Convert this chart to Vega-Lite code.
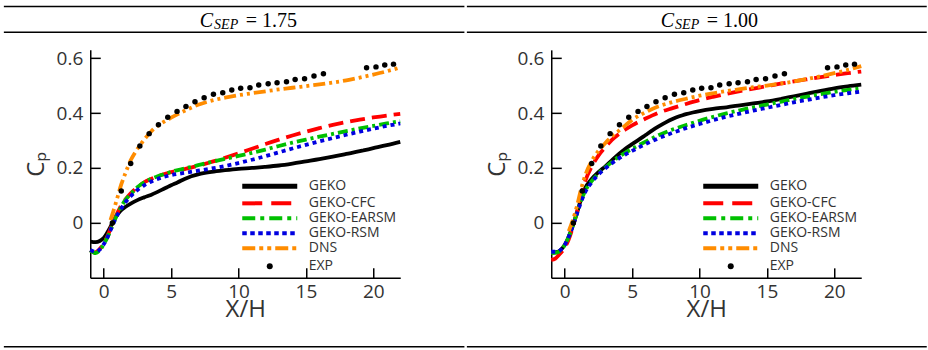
{
  "$schema": "https://vega.github.io/schema/vega-lite/v6.json",
  "padding": {"left": 2.25, "top": 4.85, "right": 0, "bottom": 0},
  "spacing": 0,
  "config": {
    "view": {"stroke": null},
    "axis": {"grid": false, "domainColor": "#000", "domainWidth": 1.5, "tickColor": "#000", "labelFont": "Open Sans", "labelColor": "#333", "titleFont": "Open Sans", "titleColor": "#333", "titleFontWeight": "normal"}
  },
  "datasets": {
    "L": [
      {"s":"GEKO","x":-1,"y":-0.068},{"s":"GEKO","x":-0.6,"y":-0.07},{"s":"GEKO","x":-0.3,"y":-0.066},{"s":"GEKO","x":0,"y":-0.055},{"s":"GEKO","x":0.3,"y":-0.032},{"s":"GEKO","x":0.6,"y":-0.005},{"s":"GEKO","x":0.9,"y":0.022},{"s":"GEKO","x":1.2,"y":0.042},{"s":"GEKO","x":1.6,"y":0.058},{"s":"GEKO","x":2,"y":0.07},{"s":"GEKO","x":2.5,"y":0.083},{"s":"GEKO","x":3,"y":0.093},{"s":"GEKO","x":3.5,"y":0.102},{"s":"GEKO","x":4,"y":0.113},{"s":"GEKO","x":4.5,"y":0.125},{"s":"GEKO","x":5,"y":0.137},{"s":"GEKO","x":5.5,"y":0.148},{"s":"GEKO","x":6,"y":0.16},{"s":"GEKO","x":6.5,"y":0.17},{"s":"GEKO","x":7,"y":0.177},{"s":"GEKO","x":7.5,"y":0.182},{"s":"GEKO","x":8,"y":0.186},{"s":"GEKO","x":9,"y":0.192},{"s":"GEKO","x":10,"y":0.197},{"s":"GEKO","x":11,"y":0.2},{"s":"GEKO","x":12,"y":0.204},{"s":"GEKO","x":13,"y":0.209},{"s":"GEKO","x":14,"y":0.216},{"s":"GEKO","x":15,"y":0.224},{"s":"GEKO","x":16,"y":0.232},{"s":"GEKO","x":17,"y":0.241},{"s":"GEKO","x":18,"y":0.251},{"s":"GEKO","x":19,"y":0.261},{"s":"GEKO","x":20,"y":0.272},{"s":"GEKO","x":21,"y":0.283},{"s":"GEKO","x":22,"y":0.295},
      {"s":"GEKO-CFC","x":-1,"y":-0.1},{"s":"GEKO-CFC","x":-0.7,"y":-0.108},{"s":"GEKO-CFC","x":-0.4,"y":-0.1},{"s":"GEKO-CFC","x":0,"y":-0.075},{"s":"GEKO-CFC","x":0.3,"y":-0.045},{"s":"GEKO-CFC","x":0.6,"y":-0.01},{"s":"GEKO-CFC","x":0.9,"y":0.025},{"s":"GEKO-CFC","x":1.2,"y":0.055},{"s":"GEKO-CFC","x":1.6,"y":0.085},{"s":"GEKO-CFC","x":2,"y":0.108},{"s":"GEKO-CFC","x":2.5,"y":0.13},{"s":"GEKO-CFC","x":3,"y":0.148},{"s":"GEKO-CFC","x":3.5,"y":0.16},{"s":"GEKO-CFC","x":4,"y":0.17},{"s":"GEKO-CFC","x":4.5,"y":0.178},{"s":"GEKO-CFC","x":5,"y":0.185},{"s":"GEKO-CFC","x":6,"y":0.196},{"s":"GEKO-CFC","x":7,"y":0.208},{"s":"GEKO-CFC","x":8,"y":0.222},{"s":"GEKO-CFC","x":9,"y":0.237},{"s":"GEKO-CFC","x":10,"y":0.253},{"s":"GEKO-CFC","x":11,"y":0.27},{"s":"GEKO-CFC","x":12,"y":0.287},{"s":"GEKO-CFC","x":13,"y":0.303},{"s":"GEKO-CFC","x":14,"y":0.318},{"s":"GEKO-CFC","x":15,"y":0.332},{"s":"GEKO-CFC","x":16,"y":0.345},{"s":"GEKO-CFC","x":17,"y":0.357},{"s":"GEKO-CFC","x":18,"y":0.367},{"s":"GEKO-CFC","x":19,"y":0.376},{"s":"GEKO-CFC","x":20,"y":0.384},{"s":"GEKO-CFC","x":21,"y":0.391},{"s":"GEKO-CFC","x":22,"y":0.397},
      {"s":"GEKO-EARSM","x":-1,"y":-0.1},{"s":"GEKO-EARSM","x":-0.6,"y":-0.11},{"s":"GEKO-EARSM","x":-0.3,"y":-0.1},{"s":"GEKO-EARSM","x":0,"y":-0.078},{"s":"GEKO-EARSM","x":0.3,"y":-0.05},{"s":"GEKO-EARSM","x":0.6,"y":-0.015},{"s":"GEKO-EARSM","x":0.9,"y":0.02},{"s":"GEKO-EARSM","x":1.2,"y":0.05},{"s":"GEKO-EARSM","x":1.6,"y":0.083},{"s":"GEKO-EARSM","x":2,"y":0.105},{"s":"GEKO-EARSM","x":2.5,"y":0.13},{"s":"GEKO-EARSM","x":3,"y":0.148},{"s":"GEKO-EARSM","x":3.5,"y":0.16},{"s":"GEKO-EARSM","x":4,"y":0.17},{"s":"GEKO-EARSM","x":4.5,"y":0.178},{"s":"GEKO-EARSM","x":5,"y":0.186},{"s":"GEKO-EARSM","x":6,"y":0.198},{"s":"GEKO-EARSM","x":7,"y":0.21},{"s":"GEKO-EARSM","x":8,"y":0.222},{"s":"GEKO-EARSM","x":9,"y":0.233},{"s":"GEKO-EARSM","x":10,"y":0.244},{"s":"GEKO-EARSM","x":11,"y":0.255},{"s":"GEKO-EARSM","x":12,"y":0.267},{"s":"GEKO-EARSM","x":13,"y":0.28},{"s":"GEKO-EARSM","x":14,"y":0.292},{"s":"GEKO-EARSM","x":15,"y":0.303},{"s":"GEKO-EARSM","x":16,"y":0.314},{"s":"GEKO-EARSM","x":17,"y":0.324},{"s":"GEKO-EARSM","x":18,"y":0.334},{"s":"GEKO-EARSM","x":19,"y":0.344},{"s":"GEKO-EARSM","x":20,"y":0.353},{"s":"GEKO-EARSM","x":21,"y":0.362},{"s":"GEKO-EARSM","x":22,"y":0.37},
      {"s":"GEKO-RSM","x":-1,"y":-0.098},{"s":"GEKO-RSM","x":-0.6,"y":-0.105},{"s":"GEKO-RSM","x":-0.3,"y":-0.097},{"s":"GEKO-RSM","x":0,"y":-0.078},{"s":"GEKO-RSM","x":0.3,"y":-0.05},{"s":"GEKO-RSM","x":0.6,"y":-0.015},{"s":"GEKO-RSM","x":0.9,"y":0.018},{"s":"GEKO-RSM","x":1.2,"y":0.045},{"s":"GEKO-RSM","x":1.6,"y":0.075},{"s":"GEKO-RSM","x":2,"y":0.097},{"s":"GEKO-RSM","x":2.5,"y":0.12},{"s":"GEKO-RSM","x":3,"y":0.137},{"s":"GEKO-RSM","x":3.5,"y":0.15},{"s":"GEKO-RSM","x":4,"y":0.16},{"s":"GEKO-RSM","x":4.5,"y":0.168},{"s":"GEKO-RSM","x":5,"y":0.174},{"s":"GEKO-RSM","x":6,"y":0.182},{"s":"GEKO-RSM","x":7,"y":0.19},{"s":"GEKO-RSM","x":8,"y":0.198},{"s":"GEKO-RSM","x":9,"y":0.207},{"s":"GEKO-RSM","x":10,"y":0.218},{"s":"GEKO-RSM","x":11,"y":0.23},{"s":"GEKO-RSM","x":12,"y":0.243},{"s":"GEKO-RSM","x":13,"y":0.257},{"s":"GEKO-RSM","x":14,"y":0.271},{"s":"GEKO-RSM","x":15,"y":0.284},{"s":"GEKO-RSM","x":16,"y":0.297},{"s":"GEKO-RSM","x":17,"y":0.309},{"s":"GEKO-RSM","x":18,"y":0.321},{"s":"GEKO-RSM","x":19,"y":0.332},{"s":"GEKO-RSM","x":20,"y":0.343},{"s":"GEKO-RSM","x":21,"y":0.353},{"s":"GEKO-RSM","x":22,"y":0.362},
      {"s":"DNS","x":0.5,"y":0.01},{"s":"DNS","x":0.7,"y":0.04},{"s":"DNS","x":1.0,"y":0.09},{"s":"DNS","x":1.3,"y":0.14},{"s":"DNS","x":1.6,"y":0.18},{"s":"DNS","x":2,"y":0.228},{"s":"DNS","x":2.4,"y":0.262},{"s":"DNS","x":2.8,"y":0.29},{"s":"DNS","x":3.2,"y":0.315},{"s":"DNS","x":3.7,"y":0.342},{"s":"DNS","x":4.2,"y":0.36},{"s":"DNS","x":5,"y":0.383},{"s":"DNS","x":5.5,"y":0.396},{"s":"DNS","x":6,"y":0.408},{"s":"DNS","x":7,"y":0.43},{"s":"DNS","x":8,"y":0.445},{"s":"DNS","x":9,"y":0.456},{"s":"DNS","x":10,"y":0.465},{"s":"DNS","x":11,"y":0.472},{"s":"DNS","x":12,"y":0.479},{"s":"DNS","x":13,"y":0.486},{"s":"DNS","x":14,"y":0.492},{"s":"DNS","x":15,"y":0.498},{"s":"DNS","x":16,"y":0.504},{"s":"DNS","x":17,"y":0.511},{"s":"DNS","x":18,"y":0.519},{"s":"DNS","x":19,"y":0.529},{"s":"DNS","x":20,"y":0.54},{"s":"DNS","x":21,"y":0.552},{"s":"DNS","x":22,"y":0.566}
    ],
    "R": [
      {"s":"GEKO","x":-1,"y":-0.108},{"s":"GEKO","x":-0.6,"y":-0.106},{"s":"GEKO","x":-0.3,"y":-0.098},{"s":"GEKO","x":0,"y":-0.08},{"s":"GEKO","x":0.3,"y":-0.05},{"s":"GEKO","x":0.6,"y":-0.01},{"s":"GEKO","x":0.9,"y":0.035},{"s":"GEKO","x":1.2,"y":0.085},{"s":"GEKO","x":1.5,"y":0.125},{"s":"GEKO","x":2,"y":0.16},{"s":"GEKO","x":2.5,"y":0.185},{"s":"GEKO","x":3,"y":0.205},{"s":"GEKO","x":3.5,"y":0.228},{"s":"GEKO","x":4,"y":0.25},{"s":"GEKO","x":4.5,"y":0.27},{"s":"GEKO","x":5,"y":0.287},{"s":"GEKO","x":5.5,"y":0.303},{"s":"GEKO","x":6,"y":0.32},{"s":"GEKO","x":6.5,"y":0.337},{"s":"GEKO","x":7,"y":0.352},{"s":"GEKO","x":7.5,"y":0.366},{"s":"GEKO","x":8,"y":0.378},{"s":"GEKO","x":8.5,"y":0.388},{"s":"GEKO","x":9,"y":0.396},{"s":"GEKO","x":9.5,"y":0.402},{"s":"GEKO","x":10,"y":0.407},{"s":"GEKO","x":11,"y":0.415},{"s":"GEKO","x":12,"y":0.421},{"s":"GEKO","x":13,"y":0.428},{"s":"GEKO","x":14,"y":0.435},{"s":"GEKO","x":15,"y":0.442},{"s":"GEKO","x":16,"y":0.451},{"s":"GEKO","x":17,"y":0.461},{"s":"GEKO","x":18,"y":0.471},{"s":"GEKO","x":19,"y":0.481},{"s":"GEKO","x":20,"y":0.49},{"s":"GEKO","x":21,"y":0.497},{"s":"GEKO","x":22,"y":0.503},
      {"s":"GEKO-CFC","x":-1,"y":-0.135},{"s":"GEKO-CFC","x":-0.7,"y":-0.13},{"s":"GEKO-CFC","x":-0.4,"y":-0.115},{"s":"GEKO-CFC","x":0,"y":-0.09},{"s":"GEKO-CFC","x":0.3,"y":-0.06},{"s":"GEKO-CFC","x":0.6,"y":-0.015},{"s":"GEKO-CFC","x":0.9,"y":0.04},{"s":"GEKO-CFC","x":1.2,"y":0.1},{"s":"GEKO-CFC","x":1.5,"y":0.15},{"s":"GEKO-CFC","x":2,"y":0.205},{"s":"GEKO-CFC","x":2.5,"y":0.245},{"s":"GEKO-CFC","x":3,"y":0.275},{"s":"GEKO-CFC","x":3.5,"y":0.302},{"s":"GEKO-CFC","x":4,"y":0.323},{"s":"GEKO-CFC","x":4.5,"y":0.34},{"s":"GEKO-CFC","x":5,"y":0.355},{"s":"GEKO-CFC","x":6,"y":0.38},{"s":"GEKO-CFC","x":7,"y":0.402},{"s":"GEKO-CFC","x":8,"y":0.418},{"s":"GEKO-CFC","x":9,"y":0.433},{"s":"GEKO-CFC","x":10,"y":0.447},{"s":"GEKO-CFC","x":11,"y":0.459},{"s":"GEKO-CFC","x":12,"y":0.47},{"s":"GEKO-CFC","x":13,"y":0.48},{"s":"GEKO-CFC","x":14,"y":0.489},{"s":"GEKO-CFC","x":15,"y":0.498},{"s":"GEKO-CFC","x":16,"y":0.507},{"s":"GEKO-CFC","x":17,"y":0.515},{"s":"GEKO-CFC","x":18,"y":0.523},{"s":"GEKO-CFC","x":19,"y":0.531},{"s":"GEKO-CFC","x":20,"y":0.538},{"s":"GEKO-CFC","x":21,"y":0.545},{"s":"GEKO-CFC","x":22,"y":0.551},
      {"s":"GEKO-EARSM","x":-1,"y":-0.11},{"s":"GEKO-EARSM","x":-0.6,"y":-0.108},{"s":"GEKO-EARSM","x":-0.3,"y":-0.1},{"s":"GEKO-EARSM","x":0,"y":-0.08},{"s":"GEKO-EARSM","x":0.3,"y":-0.05},{"s":"GEKO-EARSM","x":0.6,"y":-0.01},{"s":"GEKO-EARSM","x":0.9,"y":0.035},{"s":"GEKO-EARSM","x":1.2,"y":0.08},{"s":"GEKO-EARSM","x":1.5,"y":0.115},{"s":"GEKO-EARSM","x":2,"y":0.152},{"s":"GEKO-EARSM","x":2.5,"y":0.18},{"s":"GEKO-EARSM","x":3,"y":0.202},{"s":"GEKO-EARSM","x":3.5,"y":0.222},{"s":"GEKO-EARSM","x":4,"y":0.24},{"s":"GEKO-EARSM","x":4.5,"y":0.256},{"s":"GEKO-EARSM","x":5,"y":0.27},{"s":"GEKO-EARSM","x":6,"y":0.296},{"s":"GEKO-EARSM","x":7,"y":0.32},{"s":"GEKO-EARSM","x":8,"y":0.34},{"s":"GEKO-EARSM","x":9,"y":0.356},{"s":"GEKO-EARSM","x":10,"y":0.372},{"s":"GEKO-EARSM","x":11,"y":0.386},{"s":"GEKO-EARSM","x":12,"y":0.399},{"s":"GEKO-EARSM","x":13,"y":0.41},{"s":"GEKO-EARSM","x":14,"y":0.421},{"s":"GEKO-EARSM","x":15,"y":0.431},{"s":"GEKO-EARSM","x":16,"y":0.441},{"s":"GEKO-EARSM","x":17,"y":0.451},{"s":"GEKO-EARSM","x":18,"y":0.46},{"s":"GEKO-EARSM","x":19,"y":0.469},{"s":"GEKO-EARSM","x":20,"y":0.477},{"s":"GEKO-EARSM","x":21,"y":0.484},{"s":"GEKO-EARSM","x":22,"y":0.49},
      {"s":"GEKO-RSM","x":-1,"y":-0.105},{"s":"GEKO-RSM","x":-0.6,"y":-0.105},{"s":"GEKO-RSM","x":-0.3,"y":-0.098},{"s":"GEKO-RSM","x":0,"y":-0.08},{"s":"GEKO-RSM","x":0.3,"y":-0.05},{"s":"GEKO-RSM","x":0.6,"y":-0.012},{"s":"GEKO-RSM","x":0.9,"y":0.032},{"s":"GEKO-RSM","x":1.2,"y":0.075},{"s":"GEKO-RSM","x":1.5,"y":0.11},{"s":"GEKO-RSM","x":2,"y":0.148},{"s":"GEKO-RSM","x":2.5,"y":0.176},{"s":"GEKO-RSM","x":3,"y":0.198},{"s":"GEKO-RSM","x":3.5,"y":0.217},{"s":"GEKO-RSM","x":4,"y":0.234},{"s":"GEKO-RSM","x":4.5,"y":0.249},{"s":"GEKO-RSM","x":5,"y":0.262},{"s":"GEKO-RSM","x":6,"y":0.287},{"s":"GEKO-RSM","x":7,"y":0.309},{"s":"GEKO-RSM","x":8,"y":0.328},{"s":"GEKO-RSM","x":9,"y":0.345},{"s":"GEKO-RSM","x":10,"y":0.36},{"s":"GEKO-RSM","x":11,"y":0.374},{"s":"GEKO-RSM","x":12,"y":0.387},{"s":"GEKO-RSM","x":13,"y":0.398},{"s":"GEKO-RSM","x":14,"y":0.409},{"s":"GEKO-RSM","x":15,"y":0.419},{"s":"GEKO-RSM","x":16,"y":0.429},{"s":"GEKO-RSM","x":17,"y":0.439},{"s":"GEKO-RSM","x":18,"y":0.448},{"s":"GEKO-RSM","x":19,"y":0.457},{"s":"GEKO-RSM","x":20,"y":0.465},{"s":"GEKO-RSM","x":21,"y":0.472},{"s":"GEKO-RSM","x":22,"y":0.478},
      {"s":"DNS","x":0.3,"y":-0.03},{"s":"DNS","x":0.6,"y":0.01},{"s":"DNS","x":0.9,"y":0.06},{"s":"DNS","x":1.2,"y":0.12},{"s":"DNS","x":1.5,"y":0.17},{"s":"DNS","x":2,"y":0.225},{"s":"DNS","x":2.5,"y":0.262},{"s":"DNS","x":3,"y":0.29},{"s":"DNS","x":3.5,"y":0.315},{"s":"DNS","x":4,"y":0.335},{"s":"DNS","x":4.5,"y":0.355},{"s":"DNS","x":5,"y":0.375},{"s":"DNS","x":5.5,"y":0.39},{"s":"DNS","x":6,"y":0.403},{"s":"DNS","x":7,"y":0.425},{"s":"DNS","x":8,"y":0.44},{"s":"DNS","x":9,"y":0.452},{"s":"DNS","x":10,"y":0.463},{"s":"DNS","x":11,"y":0.472},{"s":"DNS","x":12,"y":0.48},{"s":"DNS","x":13,"y":0.487},{"s":"DNS","x":14,"y":0.494},{"s":"DNS","x":15,"y":0.5},{"s":"DNS","x":16,"y":0.507},{"s":"DNS","x":17,"y":0.515},{"s":"DNS","x":18,"y":0.524},{"s":"DNS","x":19,"y":0.534},{"s":"DNS","x":20,"y":0.545},{"s":"DNS","x":21,"y":0.557},{"s":"DNS","x":22,"y":0.571}
    ],
    "E": [
      {"s":"EXP","x":0.64,"y":0.0},{"s":"EXP","x":1.3,"y":0.116},{"s":"EXP","x":2.0,"y":0.216},{"s":"EXP","x":2.68,"y":0.28},{"s":"EXP","x":3.37,"y":0.325},{"s":"EXP","x":4.06,"y":0.357},{"s":"EXP","x":4.75,"y":0.385},{"s":"EXP","x":5.44,"y":0.406},{"s":"EXP","x":6.1,"y":0.424},{"s":"EXP","x":6.77,"y":0.441},{"s":"EXP","x":7.45,"y":0.456},{"s":"EXP","x":8.14,"y":0.468},{"s":"EXP","x":8.83,"y":0.474},{"s":"EXP","x":9.5,"y":0.484},{"s":"EXP","x":10.16,"y":0.49},{"s":"EXP","x":10.85,"y":0.492},{"s":"EXP","x":11.5,"y":0.502},{"s":"EXP","x":12.2,"y":0.507},{"s":"EXP","x":12.86,"y":0.51},{"s":"EXP","x":13.56,"y":0.514},{"s":"EXP","x":14.2,"y":0.522},{"s":"EXP","x":14.9,"y":0.525},{"s":"EXP","x":15.6,"y":0.535},{"s":"EXP","x":16.3,"y":0.543},{"s":"EXP","x":19.5,"y":0.565},{"s":"EXP","x":20.2,"y":0.568},{"s":"EXP","x":20.85,"y":0.575},{"s":"EXP","x":21.5,"y":0.578}
    ]
  },
  "resolve": {"scale": {"color": "independent", "strokeDash": "independent"}, "legend": {"color": "independent"}},
  "hconcat": [
    {
      "width": 310, "height": 228,
      "resolve": {"scale": {"x": "independent", "y": "independent"}, "axis": {"x": "independent", "y": "independent"}},
      "layer": [
        {"layer": [
          {"data": {"name": "L"},
           "mark": {"type": "line", "strokeWidth": 3.8, "strokeCap": "butt", "interpolate": "monotone"},
           "encoding": {
             "x": {"field": "x", "type": "quantitative", "scale": {"domain": [-1, 22], "nice": false, "zero": false},
                   "axis": {"orient": "bottom", "values": [0, 5, 10, 15, 20], "tickSize": -10, "tickWidth": 1.5, "labelFontSize": 19, "labelPadding": 14.5, "labelFlush": false, "title": "X/H", "titleFontSize": 24, "titlePadding": -4}},
             "y": {"field": "y", "type": "quantitative", "scale": {"domain": [-0.2, 0.63], "nice": false, "zero": false},
                   "axis": {"orient": "left", "values": [0, 0.2, 0.4, 0.6], "format": "~g", "tickSize": -10, "tickWidth": 1.5, "labelFontSize": 19, "labelPadding": 17.5, "title": "Cₚ", "titleFontSize": 24, "titlePadding": 8}},
             "color": {"field": "s", "type": "nominal",
                       "scale": {"domain": ["GEKO", "GEKO-CFC", "GEKO-EARSM", "GEKO-RSM", "DNS", "EXP"], "range": ["#000000", "#ff0000", "#00c000", "#0000e0", "#ff8c00", "#000000"]},
                       "legend": {"title": null, "orient": "none", "legendX": 172.5, "legendY": 129.5, "padding": 0, "rowPadding": -2,
                                  "symbolType": "M-5,0H5", "symbolSize": 121, "symbolStrokeWidth": 4, "labelOffset": 32,
                                  "labelFont": "Open Sans", "labelFontSize": 14, "labelColor": "#333",
                                  "encode": {"symbols": {"update": {
                                    "strokeDash": {"signal": "datum.value==='GEKO-CFC'?[20,9]:datum.value==='GEKO-EARSM'?[13,5,4,5]:datum.value==='GEKO-RSM'?[4.5,3.5]:datum.value==='DNS'?[13,4,4,4,4,4]:datum.value==='EXP'?[0,1000]:[100,0]"},
                                    "strokeDashOffset": {"signal": "datum.value==='EXP'?-27.5:0"},
                                    "strokeCap": {"signal": "datum.value==='EXP'?'round':'butt'"},
                                    "strokeWidth": {"signal": "datum.value==='EXP'?6:datum.value==='GEKO'?5:4"}
                                  }}}}},
             "strokeDash": {"field": "s", "type": "nominal", "legend": null,
                            "scale": {"domain": ["GEKO", "GEKO-CFC", "GEKO-EARSM", "GEKO-RSM", "DNS"], "range": [[100, 0], [15, 7], [10, 4, 3, 4], [4, 4], [12, 4, 3, 4, 3, 4]]}}
           }},
          {"data": {"name": "E"},
           "mark": {"type": "point", "filled": true, "size": 30, "opacity": 1},
           "encoding": {
             "x": {"field": "x", "type": "quantitative"},
             "y": {"field": "y", "type": "quantitative"},
             "color": {"field": "s", "type": "nominal"}
           }}
        ]},
        {"data": {"values": [{}]},
         "layer": [
          {"mark": {"type": "rule", "color": "#000", "strokeWidth": 1.5},
           "encoding": {
             "x": {"datum": -7.41, "type": "quantitative", "scale": {"domain": [-1, 22], "nice": false, "zero": false},
                   "axis": {"orient": "bottom", "values": [-1, 1, 2, 3, 4, 6, 7, 8, 9, 11, 12, 13, 14, 16, 17, 18, 19, 21, 22], "tickSize": 4, "tickWidth": 1, "labels": false, "domain": false, "title": null}},
             "x2": {"datum": 26.76},
             "y": {"datum": 0.788, "type": "quantitative", "scale": {"domain": [-0.2, 0.63], "nice": false, "zero": false},
                   "axis": {"orient": "left", "values": [-0.15, -0.1, -0.05, 0.05, 0.1, 0.15, 0.25, 0.3, 0.35, 0.45, 0.5, 0.55], "tickSize": 4, "tickWidth": 1, "labels": false, "domain": false, "title": null}}
           }},
          {"mark": {"type": "rule", "color": "#000", "strokeWidth": 1.5},
           "encoding": {
             "x": {"datum": -7.41, "type": "quantitative", "axis": null},
             "x2": {"datum": 26.76},
             "y": {"datum": 0.6937, "type": "quantitative", "axis": null}
           }},
          {"mark": {"type": "rule", "color": "#000", "strokeWidth": 1.5},
           "encoding": {
             "x": {"datum": -7.41, "type": "quantitative", "axis": null},
             "x2": {"datum": 26.76},
             "y": {"datum": -0.451, "type": "quantitative", "axis": null}
           }},
          {"mark": {"type": "text", "text": "C", "font": "Liberation Serif", "fontStyle": "italic", "fontSize": 20, "align": "left", "baseline": "alphabetic", "color": "#000"},
           "encoding": {"x": {"datum": 7.12, "type": "quantitative", "axis": null}, "y": {"datum": 0.7137, "type": "quantitative", "axis": null}}},
          {"mark": {"type": "text", "text": "SEP", "font": "Liberation Serif", "fontStyle": "italic", "fontSize": 14, "align": "left", "baseline": "alphabetic", "color": "#000"},
           "encoding": {"x": {"datum": 8.19, "type": "quantitative", "axis": null}, "y": {"datum": 0.7046, "type": "quantitative", "axis": null}}},
          {"mark": {"type": "text", "text": "= 1.75", "font": "Liberation Serif", "fontSize": 20, "align": "left", "baseline": "alphabetic", "color": "#000"},
           "encoding": {"x": {"datum": 10.53, "type": "quantitative", "axis": null}, "y": {"datum": 0.7137, "type": "quantitative", "axis": null}}}
         ]}
      ]
    },
    {
      "width": 310, "height": 228,
      "resolve": {"scale": {"x": "independent", "y": "independent"}, "axis": {"x": "independent", "y": "independent"}},
      "layer": [
        {"layer": [
          {"data": {"name": "R"},
           "mark": {"type": "line", "strokeWidth": 3.8, "strokeCap": "butt", "interpolate": "monotone"},
           "encoding": {
             "x": {"field": "x", "type": "quantitative", "scale": {"domain": [-1, 22], "nice": false, "zero": false},
                   "axis": {"orient": "bottom", "values": [0, 5, 10, 15, 20], "tickSize": -10, "tickWidth": 1.5, "labelFontSize": 19, "labelPadding": 14.5, "labelFlush": false, "title": "X/H", "titleFontSize": 24, "titlePadding": -4}},
             "y": {"field": "y", "type": "quantitative", "scale": {"domain": [-0.2, 0.63], "nice": false, "zero": false},
                   "axis": {"orient": "left", "values": [0, 0.2, 0.4, 0.6], "format": "~g", "tickSize": -10, "tickWidth": 1.5, "labelFontSize": 19, "labelPadding": 17.5, "title": "Cₚ", "titleFontSize": 24, "titlePadding": 8}},
             "color": {"field": "s", "type": "nominal",
                       "scale": {"domain": ["GEKO", "GEKO-CFC", "GEKO-EARSM", "GEKO-RSM", "DNS", "EXP"], "range": ["#000000", "#ff0000", "#00c000", "#0000e0", "#ff8c00", "#000000"]},
                       "legend": {"title": null, "orient": "none", "legendX": 172.5, "legendY": 129.5, "padding": 0, "rowPadding": -2,
                                  "symbolType": "M-5,0H5", "symbolSize": 121, "symbolStrokeWidth": 4, "labelOffset": 32,
                                  "labelFont": "Open Sans", "labelFontSize": 14, "labelColor": "#333",
                                  "encode": {"symbols": {"update": {
                                    "strokeDash": {"signal": "datum.value==='GEKO-CFC'?[20,9]:datum.value==='GEKO-EARSM'?[13,5,4,5]:datum.value==='GEKO-RSM'?[4.5,3.5]:datum.value==='DNS'?[13,4,4,4,4,4]:datum.value==='EXP'?[0,1000]:[100,0]"},
                                    "strokeDashOffset": {"signal": "datum.value==='EXP'?-27.5:0"},
                                    "strokeCap": {"signal": "datum.value==='EXP'?'round':'butt'"},
                                    "strokeWidth": {"signal": "datum.value==='EXP'?6:datum.value==='GEKO'?5:4"}
                                  }}}}},
             "strokeDash": {"field": "s", "type": "nominal", "legend": null,
                            "scale": {"domain": ["GEKO", "GEKO-CFC", "GEKO-EARSM", "GEKO-RSM", "DNS"], "range": [[100, 0], [15, 7], [10, 4, 3, 4], [4, 4], [12, 4, 3, 4, 3, 4]]}}
           }},
          {"data": {"name": "E"},
           "mark": {"type": "point", "filled": true, "size": 30, "opacity": 1},
           "encoding": {
             "x": {"field": "x", "type": "quantitative"},
             "y": {"field": "y", "type": "quantitative"},
             "color": {"field": "s", "type": "nominal"}
           }}
        ]},
        {"data": {"values": [{}]},
         "layer": [
          {"mark": {"type": "rule", "color": "#000", "strokeWidth": 1.5},
           "encoding": {
             "x": {"datum": -7.26, "type": "quantitative", "scale": {"domain": [-1, 22], "nice": false, "zero": false},
                   "axis": {"orient": "bottom", "values": [-1, 1, 2, 3, 4, 6, 7, 8, 9, 11, 12, 13, 14, 16, 17, 18, 19, 21, 22], "tickSize": 4, "tickWidth": 1, "labels": false, "domain": false, "title": null}},
             "x2": {"datum": 26.86},
             "y": {"datum": 0.788, "type": "quantitative", "scale": {"domain": [-0.2, 0.63], "nice": false, "zero": false},
                   "axis": {"orient": "left", "values": [-0.15, -0.1, -0.05, 0.05, 0.1, 0.15, 0.25, 0.3, 0.35, 0.45, 0.5, 0.55], "tickSize": 4, "tickWidth": 1, "labels": false, "domain": false, "title": null}}
           }},
          {"mark": {"type": "rule", "color": "#000", "strokeWidth": 1.5},
           "encoding": {
             "x": {"datum": -7.26, "type": "quantitative", "axis": null},
             "x2": {"datum": 26.86},
             "y": {"datum": 0.6937, "type": "quantitative", "axis": null}
           }},
          {"mark": {"type": "rule", "color": "#000", "strokeWidth": 1.5},
           "encoding": {
             "x": {"datum": -7.26, "type": "quantitative", "axis": null},
             "x2": {"datum": 26.86},
             "y": {"datum": -0.451, "type": "quantitative", "axis": null}
           }},
          {"mark": {"type": "text", "text": "C", "font": "Liberation Serif", "fontStyle": "italic", "fontSize": 20, "align": "left", "baseline": "alphabetic", "color": "#000"},
           "encoding": {"x": {"datum": 7.12, "type": "quantitative", "axis": null}, "y": {"datum": 0.7137, "type": "quantitative", "axis": null}}},
          {"mark": {"type": "text", "text": "SEP", "font": "Liberation Serif", "fontStyle": "italic", "fontSize": 14, "align": "left", "baseline": "alphabetic", "color": "#000"},
           "encoding": {"x": {"datum": 8.19, "type": "quantitative", "axis": null}, "y": {"datum": 0.7046, "type": "quantitative", "axis": null}}},
          {"mark": {"type": "text", "text": "= 1.00", "font": "Liberation Serif", "fontSize": 20, "align": "left", "baseline": "alphabetic", "color": "#000"},
           "encoding": {"x": {"datum": 10.53, "type": "quantitative", "axis": null}, "y": {"datum": 0.7137, "type": "quantitative", "axis": null}}}
         ]}
      ]
    }
  ]
}
